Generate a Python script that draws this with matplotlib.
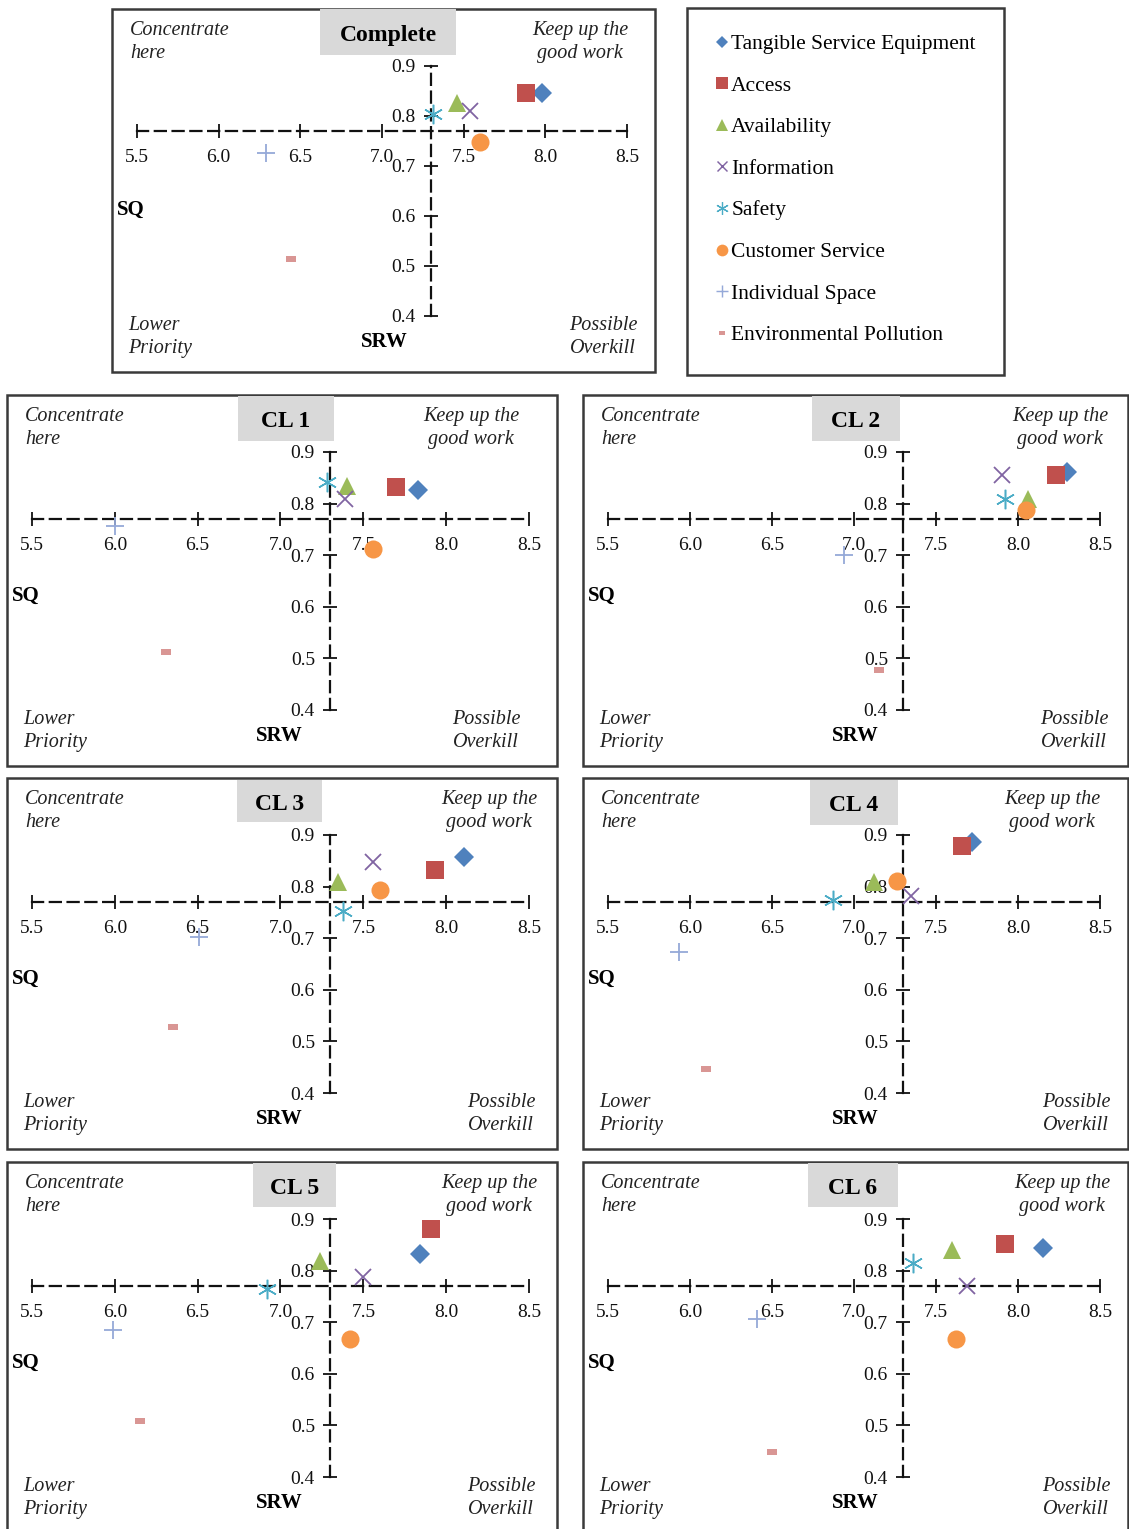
import matplotlib
matplotlib.use("Agg")
import matplotlib.pyplot as plt
from matplotlib.patches import Rectangle
from matplotlib.lines import Line2D

plt.rcParams['font.family'] = ['Liberation Serif', 'DejaVu Serif']

# ------------------------
# Data (SRW on x, SQ on y)
# ------------------------
dimensions = ["Tangible Service Equipment", "Access", "Availability", "Information",
              "Safety", "Customer Service", "Individual Space", "Environmental Pollution"]
panel_titles = ["Complete", "CL 1", "CL 2", "CL 3", "CL 4", "CL 5", "CL 6"]

srw_complete = [7.98, 7.88, 7.46, 7.54, 7.31, 7.60, 6.29, 6.44]
sq_complete = [0.847, 0.847, 0.826, 0.810, 0.805, 0.749, 0.726, 0.515]

srw_cl1 = [7.83, 7.70, 7.40, 7.39, 7.28, 7.56, 6.00, 6.31]
sq_cl1 = [0.827, 0.833, 0.835, 0.809, 0.842, 0.712, 0.757, 0.512]

srw_cl2 = [8.30, 8.23, 8.06, 7.90, 7.92, 8.05, 6.94, 7.15]
sq_cl2 = [0.862, 0.855, 0.808, 0.855, 0.809, 0.788, 0.700, 0.477]

srw_cl3 = [8.11, 7.93, 7.35, 7.56, 7.38, 7.60, 6.51, 6.35]
sq_cl3 = [0.858, 0.833, 0.809, 0.847, 0.753, 0.794, 0.702, 0.527]

srw_cl4 = [7.72, 7.66, 7.12, 7.35, 6.87, 7.26, 5.93, 6.10]
sq_cl4 = [0.886, 0.879, 0.808, 0.782, 0.775, 0.810, 0.674, 0.447]

srw_cl5 = [7.84, 7.91, 7.24, 7.50, 6.92, 7.42, 5.99, 6.15]
sq_cl5 = [0.833, 0.880, 0.819, 0.787, 0.764, 0.667, 0.685, 0.509]

srw_cl6 = [8.15, 7.92, 7.60, 7.69, 7.36, 7.62, 6.41, 6.50]
sq_cl6 = [0.843, 0.851, 0.840, 0.771, 0.815, 0.668, 0.706, 0.448]

x_ticks = [5.5, 6.0, 6.5, 7.0, 7.5, 8.0, 8.5]
y_ticks = [0.4, 0.5, 0.6, 0.7, 0.8, 0.9]
srw_cross = 7.3    # where the SQ axis crosses
sq_cross = 0.77    # where the SRW axis crosses

panel_data = [(srw_complete, sq_complete), (srw_cl1, sq_cl1), (srw_cl2, sq_cl2),
              (srw_cl3, sq_cl3), (srw_cl4, sq_cl4), (srw_cl5, sq_cl5), (srw_cl6, sq_cl6)]

# ------------------------
# Marker styles (Excel 2007 palette)
# ------------------------
dash_marker = [(-1, -0.5), (1, -0.5), (1, 0.5), (-1, 0.5)]
styles = [
    dict(marker='D', color='#4F81BD', ms=10, mew=0),
    dict(marker='s', color='#C0504D', ms=13, mew=0),
    dict(marker='^', color='#9BBB59', ms=13, mew=0),
    dict(marker='x', color='#8064A2', ms=12, mew=1.3),
    dict(marker=(6, 2, 0), color='#4BACC6', ms=14, mew=1.1),
    dict(marker='o', color='#F79646', ms=13, mew=0),
    dict(marker='+', color='#95A9D8', ms=13, mew=1.3),
    dict(marker=dash_marker, color='#D99694', ms=7.5, mew=0),
]

# ------------------------
# Layout in pixels: frame (left, top, right, bottom), title box (left, right, top, bottom)
# ------------------------
W, H = 1129, 1529
frames = [(112, 9, 655, 372), (7, 395, 557, 766), (583, 395, 1128, 766),
          (7, 778, 557, 1149), (583, 778, 1128, 1149),
          (7, 1162, 557, 1533), (583, 1162, 1128, 1533)]
title_boxes = [(320, 456, 9, 55), (238, 334, 396, 441), (812, 900, 396, 441),
               (237, 322, 780, 822), (810, 898, 780, 825),
               (253, 336, 1163, 1207), (808, 898, 1163, 1207)]
keep_dx = [27, 38, 20, 20, 28, 20, 18]
overkill_dx = [18, 37, 20, 22, 18, 22, 18]


def fx(px):
    return px / W


def fy(py):
    return 1 - py / H


fig = plt.figure(figsize=(W / 100, H / 100), dpi=100)
frame_col = '#3a3a3a'
quad_font = dict(fontsize=14.5, style='italic', color='#222222', linespacing=1.28)

for i, title in enumerate(panel_titles):
    l, t, r, b = frames[i]
    fig.add_artist(Rectangle((fx(l), fy(b)), (r - l) / W, (b - t) / H,
                             transform=fig.transFigure, fill=False,
                             ec=frame_col, lw=1.8, zorder=1))

    # plot area spans 5.5-8.5 x 0.4-0.9
    pl, pr, pt, pb = l + 25, r - 28, t + 57, b - 56
    ax = fig.add_axes([fx(pl), fy(pb), (pr - pl) / W, (pb - pt) / H])
    ax.set_xlim(5.5, 8.5)
    ax.set_ylim(0.4, 0.9)
    ax.patch.set_alpha(0)
    for side in ['top', 'right']:
        ax.spines[side].set_visible(False)
    ax.spines['left'].set_position(('data', srw_cross))
    ax.spines['bottom'].set_position(('data', sq_cross))
    for side in ['left', 'bottom']:
        ax.spines[side].set_linestyle((0, (5, 3)))
        ax.spines[side].set_linewidth(1.6)
        ax.spines[side].set_color('#111111')
    ax.set_xticks(x_ticks)
    ax.set_yticks(y_ticks)
    ax.set_xticklabels([f"{v:.1f}" for v in x_ticks])
    ax.set_yticklabels([f"{v:.1f}" for v in y_ticks])
    ax.tick_params(direction='inout', length=10, width=1.3, labelsize=14,
                   colors='#111111')
    ax.tick_params(axis='x', pad=8)
    ax.tick_params(axis='y', pad=6)

    xs, ys = panel_data[i]
    for k in range(len(dimensions)):
        st = styles[k]
        ax.plot(xs[k], ys[k], linestyle='none', marker=st['marker'],
                color=st['color'], ms=st['ms'], mew=st['mew'],
                clip_on=False, zorder=5)

    # title box
    tl, tr, tt, tb = title_boxes[i]
    fig.add_artist(Rectangle((fx(tl), fy(tb)), (tr - tl) / W, (tb - tt) / H,
                             transform=fig.transFigure, fc='#D9D9D9',
                             ec='none', zorder=2))
    fig.text(fx((tl + tr) / 2), fy((tt + tb) / 2 + 3), title, ha='center',
             va='center', fontsize=17, fontweight='bold', zorder=3)

    # quadrant labels
    fig.text(fx(l + 18), fy(t + 33), "Concentrate\nhere", ha='left',
             va='center', **quad_font)
    fig.text(fx(r - keep_dx[i]), fy(t + 33), "Keep up the\ngood work",
             ha='right', va='center', multialignment='center', **quad_font)
    fig.text(fx(l + 16), fy(b - 35), "Lower\nPriority", ha='left',
             va='center', **quad_font)
    fig.text(fx(r - overkill_dx[i]), fy(b - 35), "Possible\nOverkill",
             ha='right', va='center', multialignment='center', **quad_font)
    fig.text(fx(l + 5), fy(t + 201), "SQ", ha='left', va='center',
             fontsize=15, fontweight='bold')
    fig.text(fx(l + 272), fy(b - 30), "SRW", ha='center', va='center',
             fontsize=15, fontweight='bold')

# ------------------------
# Legend box
# ------------------------
fig.add_artist(Rectangle((fx(687), fy(375)), (1004 - 687) / W, (375 - 8) / H,
                         transform=fig.transFigure, fill=False,
                         ec=frame_col, lw=1.8))
handles = [Line2D([], [], linestyle='none', marker=st['marker'], color=st['color'],
                  ms=st['ms'] * 0.65, mew=st['mew'] * 0.8) for st in styles]
fig.legend(handles, dimensions, loc='upper left',
           bbox_to_anchor=(fx(714), fy(34)), frameon=False, fontsize=15.5,
           handlelength=0.7, handletextpad=0.1, labelspacing=1.0,
           borderaxespad=0, borderpad=0)

fig.savefig("out.png", dpi=100)
